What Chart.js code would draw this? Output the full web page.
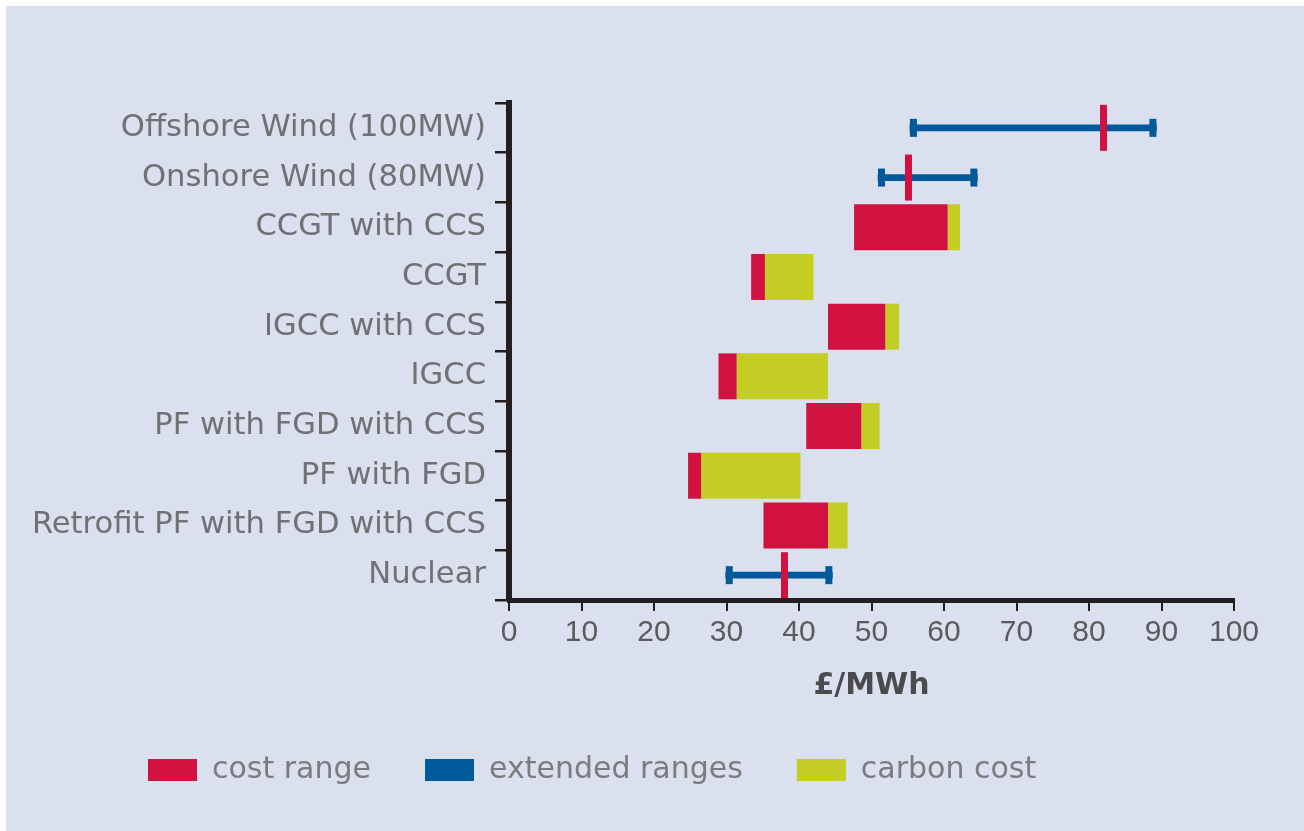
<!DOCTYPE html>
<html>
<head>
<meta charset="utf-8">
<script src="https://cdn.jsdelivr.net/npm/chart.js@4.4.0/dist/chart.umd.min.js"></script>
<style>
  html, body { margin: 0; padding: 0; background: #ffffff; }
  #panel {
    position: absolute;
    left: 6px;
    top: 6px;
    width: 1298px;
    height: 825px;
    background: #dae0ed;
  }
</style>
</head>
<body>
<div id="panel"><canvas id="costChart"></canvas></div>
<script>
/* --- DATA --- */
const technologies = [
    'Offshore Wind (100MW)',
    'Onshore Wind (80MW)',
    'CCGT with CCS',
    'CCGT',
    'IGCC with CCS',
    'IGCC',
    'PF with FGD with CCS',
    'PF with FGD',
    'Retrofit PF with FGD with CCS',
    'Nuclear'
];

// £/MWh
const costLow    = [null, null, 47.6, 33.4, 44.0, 28.9, 41.0, 24.7, 35.1, null];
const costHigh   = [null, null, 60.5, 35.3, 51.9, 31.4, 48.6, 26.5, 44.0, null];
const carbonHigh = [null, null, 62.2, 42.0, 53.8, 44.0, 51.1, 40.2, 46.7, null];
const extLow     = [55.3, 50.9, null, null, null, null, null, null, null, 29.9];
const extHigh    = [89.3, 64.6, null, null, null, null, null, null, null, 44.6];
const central    = [82.0, 55.1, null, null, null, null, null, null, null, 38.0];

const xTicks = [0, 10, 20, 30, 40, 50, 60, 70, 80, 90, 100];

const RED = '#d11241';
const BLUE = '#00599b';
const YELLOW = '#c3cd23';
const AXIS = '#231f20';

function pairs(a, b) {
    return a.map((v, i) => (v == null || b[i] == null) ? null : [v, b[i]]);
}

/* --- end caps on the extended ranges --- */
const rangeCaps = {
    id: 'rangeCaps',
    afterDatasetDraw(chart, args) {
        if (chart.data.datasets[args.index].label !== 'extended ranges') return;
        const ctx = chart.ctx;
        ctx.save();
        ctx.fillStyle = BLUE;
        args.meta.data.forEach((bar, i) => {
            if (extLow[i] == null) return;
            const left = Math.min(bar.base, bar.x);
            const right = Math.max(bar.base, bar.x);
            ctx.fillRect(left, bar.y - 9, 7, 18);
            ctx.fillRect(right - 7, bar.y - 9, 7, 18);
        });
        ctx.restore();
    }
};

// legend sits further right than the canvas edge, like the original
const legendShift = {
    id: 'legendShift',
    afterLayout(chart) {
        const lg = chart.legend;
        if (!lg) return;
        const w = lg.right - lg.left;
        lg.left = 88;
        lg.right = 88 + w;
    }
};

const ctx = document.getElementById('costChart').getContext('2d');
new Chart(ctx, {
    type: 'bar',
    data: {
        labels: technologies,
        datasets: [
            {
                label: 'cost range',
                data: pairs(costLow, costHigh),
                backgroundColor: RED,
                borderWidth: 0,
                grouped: false,
                barPercentage: 0.925,
                categoryPercentage: 1,
                order: 2
            },
            {
                label: 'extended ranges',
                data: pairs(extLow, extHigh),
                backgroundColor: BLUE,
                borderWidth: 0,
                grouped: false,
                barThickness: 6,
                order: 1
            },
            {
                label: 'carbon cost',
                data: pairs(costHigh, carbonHigh),
                backgroundColor: YELLOW,
                borderWidth: 0,
                grouped: false,
                barPercentage: 0.925,
                categoryPercentage: 1,
                order: 2
            },
            {
                label: 'central estimate',
                type: 'line',
                indexAxis: 'y',
                data: central,
                showLine: false,
                pointStyle: 'line',
                rotation: 90,
                pointRadius: 23,
                pointHoverRadius: 23,
                pointBorderWidth: 7,
                pointBorderColor: RED,
                pointBackgroundColor: RED,
                order: 0
            }
        ]
    },
    options: {
        indexAxis: 'y',
        responsive: true,
        maintainAspectRatio: false,
        animation: false,
        events: [],
        layout: {
            padding: { left: 0, right: 70, top: 97, bottom: 36 }
        },
        plugins: {
            tooltip: { enabled: false },
            legend: {
                position: 'bottom',
                align: 'start',
                labels: {
                    boxWidth: 49,
                    boxHeight: 22,
                    padding: 54,
                    color: '#7b7c7f',
                    font: { family: 'DejaVu Sans', size: 30 },
                    filter: (item) => item.datasetIndex !== 3,
                    sort: (a, b) => a.datasetIndex - b.datasetIndex
                }
            }
        },
        scales: {
            x: {
                type: 'linear',
                min: 0,
                max: 100,
                afterBuildTicks: (scale) => { scale.ticks = xTicks.map(v => ({ value: v })); },
                afterFit: (scale) => { scale.height = 101; },
                border: { display: true, width: 5, color: AXIS },
                grid: { drawOnChartArea: false, drawTicks: true, tickLength: 11, lineWidth: 2, color: AXIS },
                ticks: {
                    padding: 4,
                    color: '#5a5b5d',
                    font: { family: 'Liberation Sans', size: 30 }
                },
                title: {
                    display: true,
                    text: '£/MWh',
                    color: '#4b4b4d',
                    padding: { top: 0, bottom: 0 },
                    font: { family: 'DejaVu Sans', size: 30, weight: 'bold', lineHeight: 1.0 }
                }
            },
            y: {
                type: 'category',
                offset: true,
                afterFit: (scale) => { scale.width = 503; },
                border: { display: true, width: 6, color: AXIS },
                grid: { offset: true, drawOnChartArea: false, tickLength: 14, lineWidth: 2.5, color: AXIS },
                ticks: {
                    padding: 9,
                    color: '#707174',
                    font: { family: 'DejaVu Sans', size: 30.6 }
                }
            }
        }
    },
    plugins: [rangeCaps, legendShift]
});
</script>
</body>
</html>
